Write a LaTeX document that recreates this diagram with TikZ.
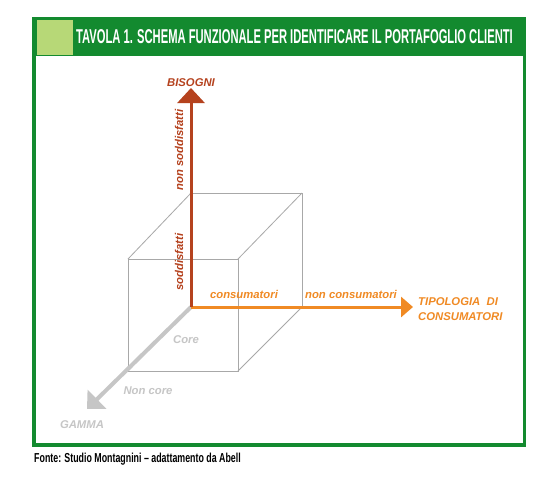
\documentclass[tikz,border=0pt]{standalone}
\usepackage{fontspec}
\setmainfont{Liberation Sans}
\newfontfamily\titlefont{Liberation Sans Bold}[FakeStretch=0.56]
\newfontfamily\notefont{Liberation Sans Bold}[FakeStretch=0.68]
\usetikzlibrary{arrows.meta,positioning}

\definecolor{framegreen}{HTML}{138A2F}
\definecolor{leafgreen}{HTML}{B7D877}
\definecolor{rust}{HTML}{B5421E}
\definecolor{amber}{HTML}{F08A24}
\definecolor{ash}{HTML}{C6C6C6}
\definecolor{cubeline}{HTML}{A8A8A8}

\begin{document}
\begin{tikzpicture}[x=1pt,y=-1pt,
  every node/.style={inner sep=0pt,font=\bfseries\itshape\fontsize{11.3}{15}\selectfont},
  cube/.style={draw=cubeline,line width=0.8pt},
  axis/.style={line width=3pt}]

\useasboundingbox (0,0) rectangle (541,480);

% frame and title bar
\fill[framegreen] (32,17) rectangle (526,447);
\fill[white] (36,56) rectangle (523,443);
\fill[leafgreen] (37,20) rectangle (73,55);
\node[anchor=west,text=white,font=\titlefont\fontsize{20}{22}\selectfont] (title) at (76,37)
  {TAVOLA 1. SCHEMA FUNZIONALE PER IDENTIFICARE IL PORTAFOGLIO CLIENTI};

% cube
\coordinate (o) at (191,307);
\draw[cube] (191,193) rectangle (302,307);
\draw[cube] (128,259) rectangle (238,371);
\draw[cube] (128,259) -- (191,193);
\draw[cube] (238,259) -- (302,193);
\draw[cube] (238,371) -- (302,307);
\draw[cube] (128,371) -- (o);

% axes
\coordinate (ytip) at (191,88);
\coordinate (xtip) at (413,307);
\coordinate (ztip) at (87,409);
\draw[axis,ash,line width=4pt,-{Triangle[length=14pt,width=26pt]}] (o) -- (ztip);
\draw[axis,amber,-{Triangle[length=12pt,width=20pt]}] (o) -- (xtip);
\draw[axis,rust,-{Triangle[length=15pt,width=27pt]}] (o) -- (ytip);

% labels
\node[text=rust] (bisogni) [above=1pt of ytip] {BISOGNI};
\node[text=rust,rotate=90] (nonsodd) at (179,150) {non soddisfatti};
\node[text=rust,rotate=90] (sodd) at (179,262) {soddisfatti};
\node[text=amber] (cons) at (244,294) {consumatori};
\node[text=amber] (noncons) at (351,294) {non consumatori};
\node[text=amber,anchor=west,align=left] (tipologia) at (418,309) {TIPOLOGIA\ \ DI\\CONSUMATORI};
\node[text=ash] (core) at (186,340) {Core};
\node[text=ash] (noncore) at (148,391) {Non core};
\node[text=ash] (gamma) at (82,425) {GAMMA};

% source
\node[anchor=west,font=\notefont\fontsize{13}{15}\selectfont] (fonte) at (34,459)
  {Fonte: Studio Montagnini – adattamento da Abell};
\end{tikzpicture}
\end{document}
